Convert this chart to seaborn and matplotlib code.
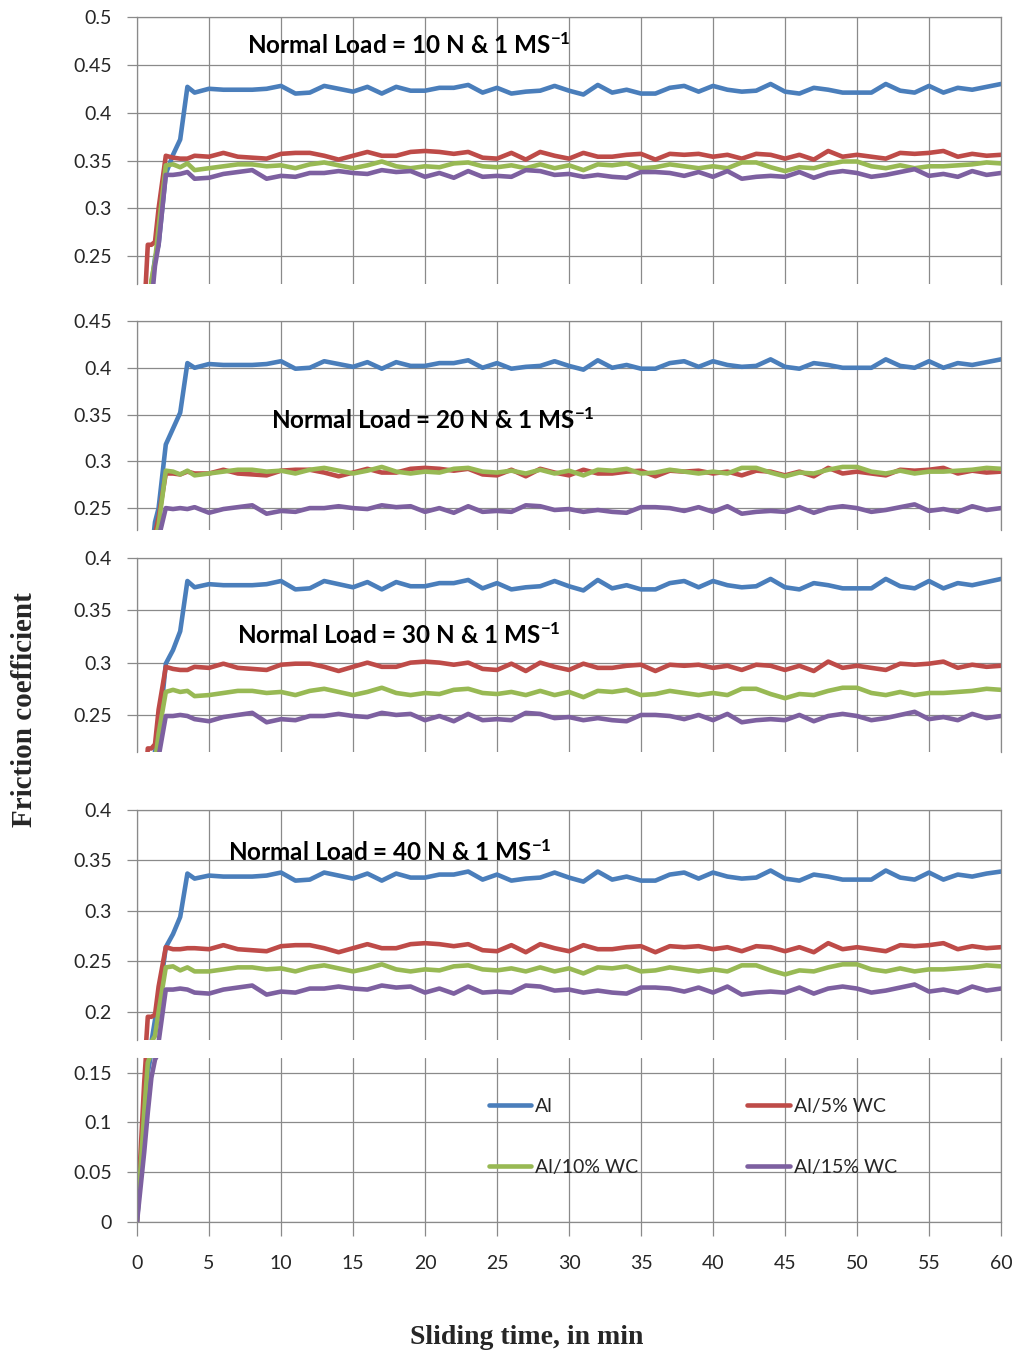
import pandas as pd
import seaborn as sns
import matplotlib.pyplot as plt
from matplotlib.lines import Line2D
from matplotlib.ticker import FuncFormatter

# sliding time (min), finer at the start where the curves run in
time_min = [0, 0.5, 0.75, 1.0, 1.25, 1.5, 2.0, 2.5, 3.0, 3.5, 4.0] + list(range(5, 61))

materials = ["Al", "Al/5% WC", "Al/10% WC", "Al/15% WC"]
colours = ["#4A7EBB", "#BE4B48", "#98B954", "#7D60A0"]
loads = [10, 20, 30, 40]

# ---- 10 N ----
al_10 = [0, 0.10, 0.16, 0.22, 0.248, 0.262, 0.336, 0.356, 0.372, 0.427, 0.421,
         0.425, 0.424, 0.424, 0.424, 0.425, 0.428, 0.420, 0.421, 0.428, 0.425,
         0.422, 0.427, 0.420, 0.427, 0.423, 0.423, 0.426, 0.426, 0.429, 0.421,
         0.426, 0.420, 0.422, 0.423, 0.428, 0.423, 0.419, 0.429, 0.421, 0.424,
         0.420, 0.420, 0.426, 0.428, 0.422, 0.428, 0.424, 0.422, 0.423, 0.430,
         0.422, 0.420, 0.426, 0.424, 0.421, 0.421, 0.421, 0.430, 0.423, 0.421,
         0.428, 0.421, 0.426, 0.424, 0.427, 0.430]
wc5_10 = [0, 0.19, 0.262, 0.262, 0.265, 0.300, 0.355, 0.353, 0.352, 0.352, 0.355,
          0.354, 0.358, 0.354, 0.353, 0.352, 0.357, 0.358, 0.358, 0.355, 0.351,
          0.355, 0.359, 0.355, 0.355, 0.359, 0.360, 0.359, 0.357, 0.359, 0.353,
          0.352, 0.358, 0.351, 0.359, 0.355, 0.352, 0.358, 0.354, 0.354, 0.356,
          0.357, 0.351, 0.357, 0.356, 0.357, 0.354, 0.356, 0.352, 0.357, 0.356,
          0.352, 0.356, 0.351, 0.360, 0.354, 0.356, 0.354, 0.352, 0.358, 0.357,
          0.358, 0.360, 0.354, 0.357, 0.355, 0.356]
wc10_10 = [0, 0.12, 0.18, 0.225, 0.245, 0.280, 0.345, 0.346, 0.343, 0.347, 0.340,
           0.342, 0.344, 0.346, 0.346, 0.344, 0.345, 0.342, 0.346, 0.348, 0.345,
           0.342, 0.345, 0.349, 0.344, 0.342, 0.344, 0.343, 0.347, 0.348, 0.344,
           0.343, 0.345, 0.342, 0.346, 0.342, 0.345, 0.340, 0.346, 0.345, 0.347,
           0.342, 0.343, 0.346, 0.344, 0.342, 0.344, 0.342, 0.348, 0.348, 0.343,
           0.339, 0.343, 0.342, 0.346, 0.349, 0.349, 0.344, 0.342, 0.345, 0.342,
           0.344, 0.344, 0.345, 0.346, 0.348, 0.347]
wc15_10 = [0, 0.08, 0.14, 0.20, 0.240, 0.262, 0.335, 0.335, 0.336, 0.338, 0.331,
           0.332, 0.336, 0.338, 0.340, 0.331, 0.334, 0.333, 0.337, 0.337, 0.339,
           0.337, 0.336, 0.340, 0.338, 0.339, 0.333, 0.337, 0.332, 0.339, 0.333,
           0.334, 0.333, 0.340, 0.339, 0.335, 0.336, 0.333, 0.335, 0.333, 0.332,
           0.338, 0.338, 0.337, 0.334, 0.338, 0.333, 0.339, 0.331, 0.333, 0.334,
           0.333, 0.338, 0.332, 0.337, 0.339, 0.337, 0.333, 0.335, 0.338, 0.341,
           0.334, 0.336, 0.333, 0.339, 0.335, 0.337]

# ---- 20 N ----
al_20 = [0, 0.10, 0.15, 0.20, 0.235, 0.25, 0.318, 0.335, 0.352, 0.405, 0.400,
         0.404, 0.403, 0.403, 0.403, 0.404, 0.407, 0.399, 0.400, 0.407, 0.404,
         0.401, 0.406, 0.399, 0.406, 0.402, 0.402, 0.405, 0.405, 0.408, 0.400,
         0.405, 0.399, 0.401, 0.402, 0.407, 0.402, 0.398, 0.408, 0.400, 0.403,
         0.399, 0.399, 0.405, 0.407, 0.401, 0.407, 0.403, 0.401, 0.402, 0.409,
         0.401, 0.399, 0.405, 0.403, 0.400, 0.400, 0.400, 0.409, 0.402, 0.400,
         0.407, 0.400, 0.405, 0.403, 0.406, 0.409]
wc5_20 = [0, 0.15, 0.20, 0.215, 0.222, 0.240, 0.287, 0.287, 0.286, 0.289, 0.287,
          0.287, 0.291, 0.287, 0.286, 0.285, 0.290, 0.291, 0.291, 0.288, 0.284,
          0.288, 0.292, 0.288, 0.288, 0.292, 0.293, 0.292, 0.290, 0.292, 0.286,
          0.285, 0.291, 0.284, 0.292, 0.288, 0.285, 0.291, 0.287, 0.287, 0.289,
          0.290, 0.284, 0.290, 0.289, 0.290, 0.287, 0.289, 0.285, 0.290, 0.289,
          0.285, 0.289, 0.284, 0.293, 0.287, 0.289, 0.287, 0.285, 0.291, 0.290,
          0.291, 0.293, 0.287, 0.290, 0.288, 0.289]
wc10_20 = [0, 0.13, 0.18, 0.20, 0.215, 0.232, 0.290, 0.289, 0.286, 0.290, 0.285,
           0.287, 0.289, 0.291, 0.291, 0.289, 0.290, 0.287, 0.291, 0.293, 0.290,
           0.287, 0.290, 0.294, 0.289, 0.287, 0.289, 0.288, 0.292, 0.293, 0.289,
           0.288, 0.290, 0.287, 0.291, 0.287, 0.290, 0.285, 0.291, 0.290, 0.292,
           0.287, 0.288, 0.291, 0.289, 0.287, 0.289, 0.287, 0.293, 0.293, 0.288,
           0.284, 0.288, 0.287, 0.291, 0.294, 0.294, 0.289, 0.287, 0.290, 0.287,
           0.289, 0.289, 0.290, 0.291, 0.293, 0.292]
wc15_20 = [0, 0.08, 0.13, 0.17, 0.200, 0.218, 0.250, 0.249, 0.250, 0.249, 0.251,
           0.245, 0.249, 0.251, 0.253, 0.244, 0.247, 0.246, 0.250, 0.250, 0.252,
           0.250, 0.249, 0.253, 0.251, 0.252, 0.246, 0.250, 0.245, 0.252, 0.246,
           0.247, 0.246, 0.253, 0.252, 0.248, 0.249, 0.246, 0.248, 0.246, 0.245,
           0.251, 0.251, 0.250, 0.247, 0.251, 0.246, 0.252, 0.244, 0.246, 0.247,
           0.246, 0.251, 0.245, 0.250, 0.252, 0.250, 0.246, 0.248, 0.251, 0.254,
           0.247, 0.249, 0.246, 0.252, 0.248, 0.250]

# ---- 30 N ----
al_30 = [0, 0.10, 0.15, 0.19, 0.215, 0.229, 0.299, 0.312, 0.330, 0.378, 0.372,
         0.375, 0.374, 0.374, 0.374, 0.375, 0.378, 0.370, 0.371, 0.378, 0.375,
         0.372, 0.377, 0.370, 0.377, 0.373, 0.373, 0.376, 0.376, 0.379, 0.371,
         0.376, 0.370, 0.372, 0.373, 0.378, 0.373, 0.369, 0.379, 0.371, 0.374,
         0.370, 0.370, 0.376, 0.378, 0.372, 0.378, 0.374, 0.372, 0.373, 0.380,
         0.372, 0.370, 0.376, 0.374, 0.371, 0.371, 0.371, 0.380, 0.373, 0.371,
         0.378, 0.371, 0.376, 0.374, 0.377, 0.380]
wc5_30 = [0, 0.17, 0.218, 0.218, 0.222, 0.255, 0.296, 0.294, 0.293, 0.293, 0.296,
          0.295, 0.299, 0.295, 0.294, 0.293, 0.298, 0.299, 0.299, 0.296, 0.292,
          0.296, 0.300, 0.296, 0.296, 0.300, 0.301, 0.300, 0.298, 0.300, 0.294,
          0.293, 0.299, 0.292, 0.300, 0.296, 0.293, 0.299, 0.295, 0.295, 0.297,
          0.298, 0.292, 0.298, 0.297, 0.298, 0.295, 0.297, 0.293, 0.298, 0.297,
          0.293, 0.297, 0.292, 0.301, 0.295, 0.297, 0.295, 0.293, 0.299, 0.298,
          0.299, 0.301, 0.295, 0.298, 0.296, 0.297]
wc10_30 = [0, 0.12, 0.17, 0.19, 0.205, 0.232, 0.272, 0.274, 0.272, 0.273, 0.268,
           0.269, 0.271, 0.273, 0.273, 0.271, 0.272, 0.269, 0.273, 0.275, 0.272,
           0.269, 0.272, 0.276, 0.271, 0.269, 0.271, 0.270, 0.274, 0.275, 0.271,
           0.270, 0.272, 0.269, 0.273, 0.269, 0.272, 0.267, 0.273, 0.272, 0.274,
           0.269, 0.270, 0.273, 0.271, 0.269, 0.271, 0.269, 0.275, 0.275, 0.270,
           0.266, 0.270, 0.269, 0.273, 0.276, 0.276, 0.271, 0.269, 0.272, 0.269,
           0.271, 0.271, 0.272, 0.273, 0.275, 0.274]
wc15_30 = [0, 0.08, 0.13, 0.17, 0.195, 0.210, 0.249, 0.249, 0.250, 0.249, 0.246,
           0.244, 0.248, 0.250, 0.252, 0.243, 0.246, 0.245, 0.249, 0.249, 0.251,
           0.249, 0.248, 0.252, 0.250, 0.251, 0.245, 0.249, 0.244, 0.251, 0.245,
           0.246, 0.245, 0.252, 0.251, 0.247, 0.248, 0.245, 0.247, 0.245, 0.244,
           0.250, 0.250, 0.249, 0.246, 0.250, 0.245, 0.251, 0.243, 0.245, 0.246,
           0.245, 0.250, 0.244, 0.249, 0.251, 0.249, 0.245, 0.247, 0.250, 0.253,
           0.246, 0.248, 0.245, 0.251, 0.247, 0.249]

# ---- 40 N ----
al_40 = [0, 0.10, 0.15, 0.17, 0.192, 0.21, 0.264, 0.277, 0.294, 0.337, 0.332,
         0.335, 0.334, 0.334, 0.334, 0.335, 0.338, 0.330, 0.331, 0.338, 0.335,
         0.332, 0.337, 0.330, 0.337, 0.333, 0.333, 0.336, 0.336, 0.339, 0.331,
         0.336, 0.330, 0.332, 0.333, 0.338, 0.333, 0.329, 0.339, 0.331, 0.334,
         0.330, 0.330, 0.336, 0.338, 0.332, 0.338, 0.334, 0.332, 0.333, 0.340,
         0.332, 0.330, 0.336, 0.334, 0.331, 0.331, 0.331, 0.340, 0.333, 0.331,
         0.338, 0.331, 0.336, 0.334, 0.337, 0.339]
wc5_40 = [0, 0.14, 0.195, 0.195, 0.197, 0.225, 0.264, 0.262, 0.262, 0.263, 0.263,
          0.262, 0.266, 0.262, 0.261, 0.260, 0.265, 0.266, 0.266, 0.263, 0.259,
          0.263, 0.267, 0.263, 0.263, 0.267, 0.268, 0.267, 0.265, 0.267, 0.261,
          0.260, 0.266, 0.259, 0.267, 0.263, 0.260, 0.266, 0.262, 0.262, 0.264,
          0.265, 0.259, 0.265, 0.264, 0.265, 0.262, 0.264, 0.260, 0.265, 0.264,
          0.260, 0.264, 0.259, 0.268, 0.262, 0.264, 0.262, 0.260, 0.266, 0.265,
          0.266, 0.268, 0.262, 0.265, 0.263, 0.264]
wc10_40 = [0, 0.11, 0.16, 0.17, 0.176, 0.200, 0.244, 0.245, 0.241, 0.244, 0.240,
           0.240, 0.242, 0.244, 0.244, 0.242, 0.243, 0.240, 0.244, 0.246, 0.243,
           0.240, 0.243, 0.247, 0.242, 0.240, 0.242, 0.241, 0.245, 0.246, 0.242,
           0.241, 0.243, 0.240, 0.244, 0.240, 0.243, 0.238, 0.244, 0.243, 0.245,
           0.240, 0.241, 0.244, 0.242, 0.240, 0.242, 0.240, 0.246, 0.246, 0.241,
           0.237, 0.241, 0.240, 0.244, 0.247, 0.247, 0.242, 0.240, 0.243, 0.240,
           0.242, 0.242, 0.243, 0.244, 0.246, 0.245]
wc15_40 = [0, 0.07, 0.11, 0.145, 0.163, 0.170, 0.222, 0.222, 0.223, 0.222, 0.219,
           0.218, 0.222, 0.224, 0.226, 0.217, 0.220, 0.219, 0.223, 0.223, 0.225,
           0.223, 0.222, 0.226, 0.224, 0.225, 0.219, 0.223, 0.218, 0.225, 0.219,
           0.220, 0.219, 0.226, 0.225, 0.221, 0.222, 0.219, 0.221, 0.219, 0.218,
           0.224, 0.224, 0.223, 0.220, 0.224, 0.219, 0.225, 0.217, 0.219, 0.220,
           0.219, 0.224, 0.218, 0.223, 0.225, 0.223, 0.219, 0.221, 0.224, 0.227,
           0.220, 0.222, 0.219, 0.225, 0.221, 0.223]

series = {
    10: [al_10, wc5_10, wc10_10, wc15_10],
    20: [al_20, wc5_20, wc10_20, wc15_20],
    30: [al_30, wc5_30, wc10_30, wc15_30],
    40: [al_40, wc5_40, wc10_40, wc15_40],
}

# long-form table
frames = []
for load in loads:
    for mat, vals in zip(materials, series[load]):
        frames.append(pd.DataFrame({"time": time_min, "mu": vals, "material": mat, "load": load}))
df = pd.concat(frames, ignore_index=True)

sns.set_style("white")
plt.rcParams["font.family"] = ["Lato", "DejaVu Sans"]
plt.rcParams["mathtext.default"] = "regular"

W, H = 1013, 1355
fig = plt.figure(figsize=(W / 100, H / 100), dpi=100)

grid_col = "#8a8a8a"
text_col = "#262626"

# panel boxes in pixels: top, bottom ; the last one is the foot of the 40 N chart
panels = [
    dict(load=10, top=17, bot=284, ylim=(0.221, 0.5), ticks=[0.25, 0.3, 0.35, 0.4, 0.45, 0.5], txt=(247, 45)),
    dict(load=20, top=321, bot=530, ylim=(0.2266, 0.45), ticks=[0.25, 0.3, 0.35, 0.4, 0.45], txt=(271, 420)),
    dict(load=30, top=558, bot=752, ylim=(0.2146, 0.4), ticks=[0.25, 0.3, 0.35, 0.4], txt=(237, 635)),
    dict(load=40, top=810, bot=1040, ylim=(0.172, 0.4), ticks=[0.2, 0.25, 0.3, 0.35, 0.4], txt=(228, 852)),
    dict(load=40, top=1058, bot=1222, ylim=(0, 0.1647), ticks=[0, 0.05, 0.1, 0.15], txt=None),
]
x_left, x_right = 137, 1001

fmt = FuncFormatter(lambda v, p: f"{v:g}")

for i, p in enumerate(panels):
    ax = fig.add_axes([x_left / W, 1 - p["bot"] / H, (x_right - x_left) / W, (p["bot"] - p["top"]) / H])
    sub = df[df["load"] == p["load"]]
    sns.lineplot(data=sub, x="time", y="mu", hue="material", hue_order=materials,
                 palette=colours, lw=3.3, estimator=None, sort=False, legend=False, ax=ax)
    ax.set_xlim(0, 60)
    ax.set_ylim(*p["ylim"])
    ax.set_xticks(range(0, 61, 5))
    ax.set_yticks(p["ticks"])
    ax.yaxis.set_major_formatter(fmt)
    ax.grid(True, color=grid_col, lw=0.9)
    ax.set_axisbelow(True)
    ax.set_xlabel("")
    ax.set_ylabel("")

    last = i == len(panels) - 1
    for side in ["left", "right"]:
        ax.spines[side].set_visible(True)
        ax.spines[side].set_color(grid_col)
        ax.spines[side].set_linewidth(0.9)
    ax.spines["top"].set_visible(not last)
    ax.spines["top"].set_color(grid_col)
    ax.spines["top"].set_linewidth(0.9)
    ax.spines["bottom"].set_visible(last)
    ax.spines["bottom"].set_color(grid_col)
    ax.spines["bottom"].set_linewidth(0.9)

    ax.tick_params(axis="y", length=7, width=0.9, color=grid_col, pad=11,
                   labelsize=14, labelcolor=text_col, direction="out", left=True)
    if last:
        ax.tick_params(axis="x", length=10, width=0.9, color=grid_col, pad=14,
                       labelsize=14, labelcolor=text_col, direction="out", bottom=True)
    else:
        ax.tick_params(axis="x", length=0, labelbottom=False)

    if p["txt"] is not None:
        tx, ty = p["txt"]
        fig.text(tx / W, 1 - ty / H, f"Normal Load = {p['load']} N & 1 MS$^{{-1}}$",
                 fontsize=17.5, fontweight="bold", ha="left", va="center", color="black")

    if last:
        handles = [Line2D([], [], color=c, lw=3.3) for c in colours]
        order = [0, 2, 1, 3]
        ax.legend([handles[k] for k in order], [materials[k] for k in order],
                  ncol=2, loc="upper left", bbox_to_anchor=(0.407, 0.755),
                  frameon=False, fontsize=14, handlelength=2.2, handletextpad=0.2,
                  columnspacing=5.6, labelspacing=2.25, borderpad=0, borderaxespad=0,
                  labelcolor=text_col)

fig.text(25 / W, 1 - 710 / H, "Friction coefficient", rotation=90, ha="center", va="center",
         family="Liberation Serif", fontweight="bold", fontsize=21)
fig.text(527 / W, 1 - 1338 / H, "Sliding time, in min", ha="center", va="center",
         family="Liberation Serif", fontweight="bold", fontsize=20)

fig.savefig("out.png", dpi=100)
